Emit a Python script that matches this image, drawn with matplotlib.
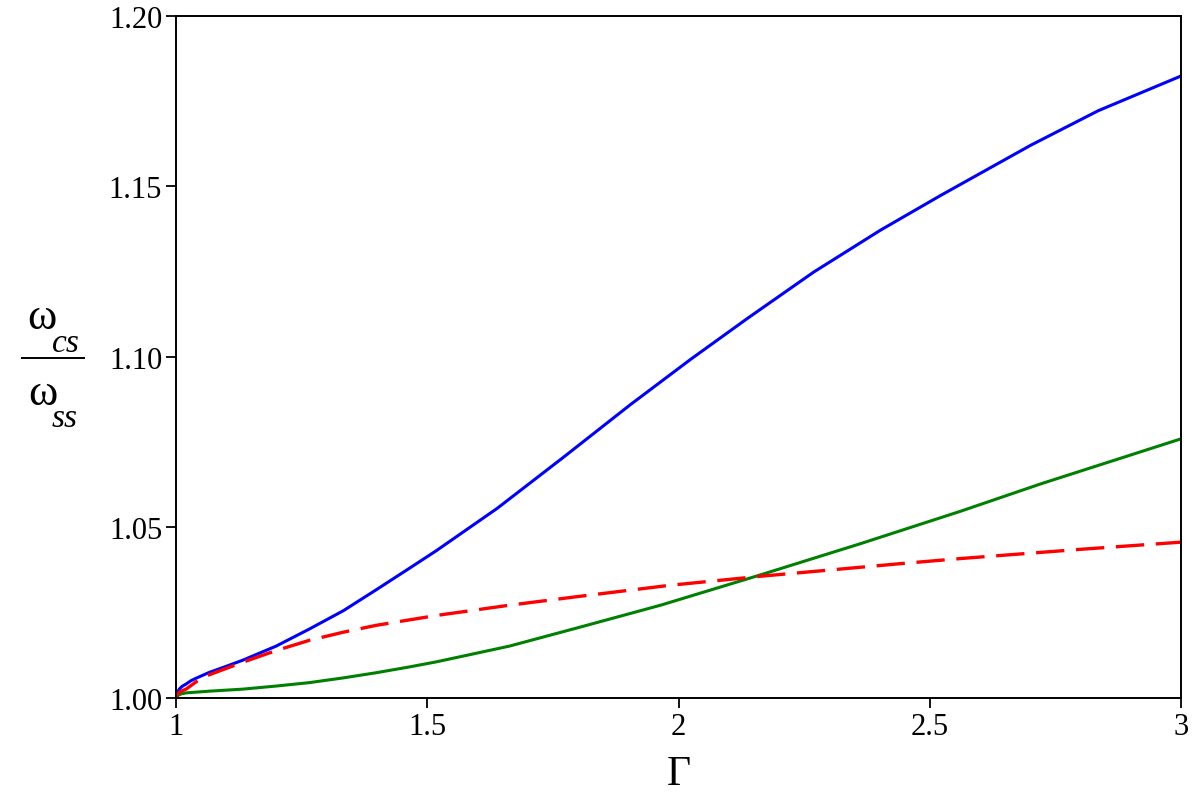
import numpy as np
import matplotlib
matplotlib.use('Agg')
import matplotlib.pyplot as plt

plt.rcParams['font.family'] = ['Liberation Serif', 'DejaVu Serif']

# data (Gamma vs omega_cs/omega_ss)
gamma_blue = [1.0, 1.003, 1.007, 1.012, 1.02, 1.03, 1.04, 1.066, 1.10, 1.133, 1.199, 1.265, 1.333,
              1.398, 1.464, 1.518, 1.639, 1.771, 1.904, 2.024, 2.137, 2.269, 2.402,
              2.522, 2.578, 2.701, 2.835, 3.0]
ratio_blue = [1.0, 1.0018, 1.0027, 1.0034, 1.0041, 1.0051, 1.0058, 1.0075, 1.0093, 1.0111, 1.0152, 1.0202, 1.0256,
              1.0317, 1.0380, 1.0432, 1.0556, 1.0706, 1.0860, 1.0993, 1.1113, 1.1249, 1.1372,
              1.1474, 1.1520, 1.1621, 1.1722, 1.1824]

gamma_red = [1.0, 1.003, 1.007, 1.012, 1.02, 1.046, 1.066, 1.133, 1.199, 1.265, 1.333, 1.398,
             1.518, 1.663, 1.797, 1.98, 2.163, 2.442, 2.562, 2.8, 3.0]
ratio_red = [1.0, 1.0011, 1.0017, 1.0021, 1.0026, 1.0054, 1.0068, 1.0105, 1.0139, 1.0169, 1.0193, 1.0213,
             1.0242, 1.0272, 1.0297, 1.0330, 1.0357, 1.0394, 1.0409, 1.0436, 1.0457]

gamma_green = [1.0, 1.004, 1.01, 1.02, 1.066, 1.133, 1.199, 1.265, 1.333, 1.398, 1.464, 1.518,
               1.663, 1.797, 1.964, 2.163, 2.363, 2.562, 2.721, 3.0]
ratio_green = [1.0, 1.0008, 1.0012, 1.0015, 1.0020, 1.0026, 1.0035, 1.0045, 1.0059, 1.0074, 1.0091, 1.0106,
               1.0152, 1.0205, 1.0272, 1.0361, 1.0453, 1.0548, 1.0628, 1.0760]

xticks = [1, 1.5, 2, 2.5, 3]
xticklabels = ['1', '1.5', '2', '2.5', '3']
yticks = [1.00, 1.05, 1.10, 1.15, 1.20]
yticklabels = ['1.00', '1.05', '1.10', '1.15', '1.20']

fig = plt.figure(figsize=(12, 8.04), dpi=100)
ax = fig.add_axes([0.1467, 0.1306, 0.8375, 0.8483])

ax.plot(gamma_blue, ratio_blue, color='#0000ff', lw=2.2, solid_joinstyle='round')
ax.plot(gamma_green, ratio_green, color='#008000', lw=2.2, solid_joinstyle='round')
ax.plot(gamma_red, ratio_red, color='#ff0000', lw=2.4, dashes=(8.5, 3.5))

ax.set_xlim(1, 3)
ax.set_ylim(1.0, 1.2)
ax.set_xticks(xticks)
ax.set_xticklabels(xticklabels)
ax.set_yticks(yticks)
ax.set_yticklabels(yticklabels)
ax.tick_params(direction='out', length=7, width=1.3, labelsize=22, pad=3)
for s in ax.spines.values():
    s.set_linewidth(1.4)

ax.set_xlabel('Γ', fontsize=30, labelpad=10)

# stacked fraction label on the left
fig.text(27/1200, 1 - 318/804, 'ω', fontsize=32, va='center', ha='left')
fig.text(52/1200, 1 - 344/804, 'cs', fontsize=24, style='italic', va='center', ha='left')
fig.add_artist(plt.Line2D([22/1200, 84/1200], [1 - 359/804, 1 - 359/804], color='black', lw=1.4))
fig.text(28/1200, 1 - 394/804, 'ω', fontsize=32, va='center', ha='left')
fig.text(52/1200, 1 - 419/804, 'ss', fontsize=24, style='italic', va='center', ha='left')

fig.savefig('out.png', dpi=100)
